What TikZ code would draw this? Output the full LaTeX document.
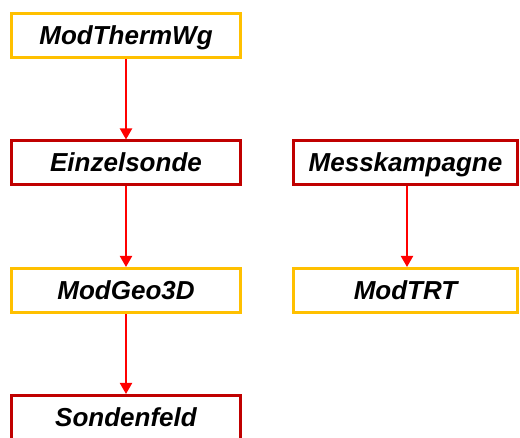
\documentclass[tikz,border=0pt]{standalone}
\usepackage{fontspec}
\setmainfont{Liberation Sans}
\usetikzlibrary{arrows.meta}
\definecolor{boxyellow}{HTML}{FFC000}
\definecolor{boxred}{HTML}{C00000}
\definecolor{arrred}{HTML}{FF0000}
\begin{document}
\begin{tikzpicture}[x=1pt,y=-1pt,
  modbox/.style={draw, line width=3pt, fill=white, minimum height=44pt,
    inner sep=0pt, text height=24pt, text depth=6pt,
    font=\fontsize{26}{30}\selectfont\bfseries\itshape},
  ybox/.style={modbox, draw=boxyellow},
  rbox/.style={modbox, draw=boxred},
  conn/.style={draw=arrred, line width=2pt, -{Triangle[length=11pt,width=12pt]}}]
\useasboundingbox (0,0) rectangle (520,438);
\node[ybox, minimum width=229pt] (mtw) at (126,35.5) {ModThermWg};
\node[rbox, minimum width=229pt] (ez) at (126,163) {Einzelsonde};
\node[ybox, minimum width=229pt] (mg) at (126,290.5) {ModGeo3D};
\node[rbox, minimum width=229pt] (sf) at (126,417.5) {Sondenfeld};
\node[rbox, minimum width=224pt] (mk) at (405.5,163) {Messkampagne};
\node[ybox, minimum width=224pt] (trt) at (405.5,290.5) {ModTRT};
\draw[conn] (mtw) -- (ez);
\draw[conn] (ez) -- (mg);
\draw[conn] (mg) -- (sf);
\draw[conn] ([xshift=1.5pt]mk.south) -- ([xshift=1.5pt]trt.north);
\end{tikzpicture}
\end{document}
